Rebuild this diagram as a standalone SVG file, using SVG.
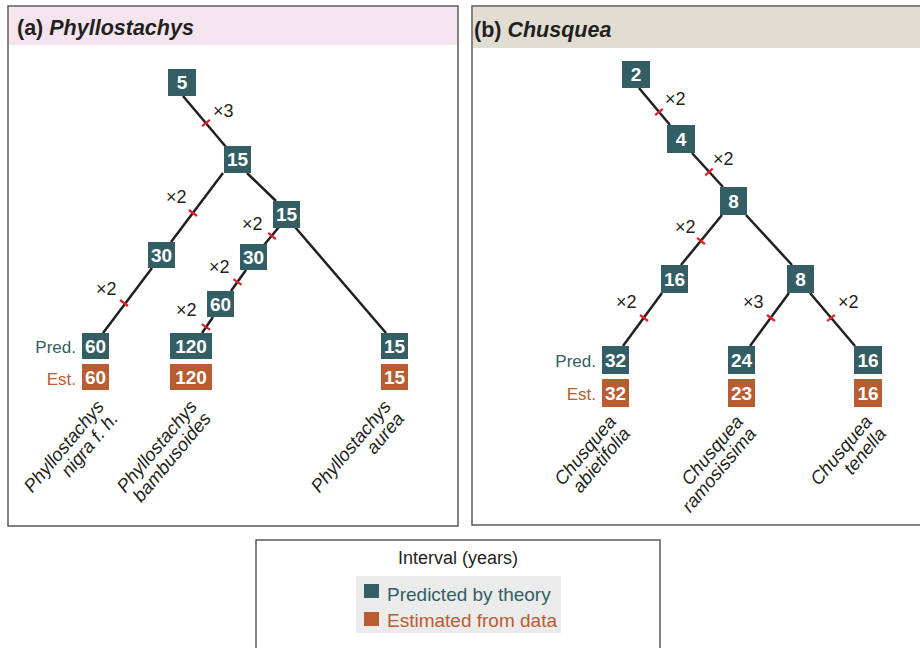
<svg xmlns="http://www.w3.org/2000/svg" width="920" height="648" viewBox="0 0 920 648">
<style>
text{font-family:"Liberation Sans",Arial,sans-serif}
.panel{fill:#fff;stroke:#5a5a5a;stroke-width:1.5}
.p{fill:#335e63}
.e{fill:#b85c32}
.num{fill:#fff;font-weight:bold;font-size:19px;text-anchor:middle}
.edge{stroke:#231f20;stroke-width:2.5;fill:none}
.tick{stroke:#ec1c24;stroke-width:2.2}
.mul{font-size:18px;fill:#231f20}
.sp{font-size:18.5px;font-style:italic;fill:#231f20;text-anchor:end}
.hdr{font-size:21.5px;font-weight:bold;fill:#231f20}
.lab{font-size:17px;text-anchor:end}
</style>
<g id="panel-a">
<rect class="panel" x="8" y="6" width="450" height="520"/>
<rect x="9" y="7" width="448" height="38" fill="#f4e4ee"/>
<text class="hdr" x="17" y="35">(a) <tspan font-style="italic">Phyllostachys</tspan></text>
</g>
<g id="panel-b">
<rect class="panel" x="472" y="6" width="460" height="519"/>
<rect x="473" y="7" width="460" height="41" fill="#e2ddd3"/>
<text class="hdr" x="474" y="37" font-size="24px">(b) <tspan font-style="italic">Chusquea</tspan></text>
</g>
<g id="connectors">
<line class="edge" x1="183" y1="96" x2="226" y2="147"/>
<line class="edge" x1="223" y1="173" x2="171" y2="242"/>
<line class="edge" x1="152" y1="268" x2="103" y2="333"/>
<line class="edge" x1="247" y1="173" x2="276" y2="201"/>
<line class="edge" x1="279" y1="227" x2="264" y2="245"/>
<line class="edge" x1="246" y1="270" x2="231" y2="291"/>
<line class="edge" x1="213" y1="317" x2="202" y2="333"/>
<line class="edge" x1="295" y1="227" x2="386" y2="333"/>
<line class="tick" x1="202.2" y1="126.2" x2="209.8" y2="119.8"/>
<line class="tick" x1="189" y1="210" x2="197" y2="216"/>
<line class="tick" x1="120" y1="300" x2="128" y2="306"/>
<line class="tick" x1="268.2" y1="232.8" x2="275.8" y2="239.2"/>
<line class="tick" x1="233.4" y1="279.1" x2="241.6" y2="284.9"/>
<line class="tick" x1="201.9" y1="324.2" x2="210.1" y2="329.8"/>
<line class="edge" x1="639" y1="88" x2="670" y2="125"/>
<line class="edge" x1="692" y1="153" x2="723" y2="187"/>
<line class="edge" x1="722" y1="215" x2="681" y2="265"/>
<line class="edge" x1="746" y1="215" x2="792" y2="265"/>
<line class="edge" x1="662" y1="293" x2="623" y2="346"/>
<line class="edge" x1="789" y1="293" x2="750" y2="346"/>
<line class="edge" x1="810" y1="293" x2="855" y2="346"/>
<line class="tick" x1="655.2" y1="115.2" x2="662.8" y2="108.8"/>
<line class="tick" x1="705.3" y1="175.4" x2="712.7" y2="168.6"/>
<line class="tick" x1="697.1" y1="237.8" x2="704.9" y2="244.2"/>
<line class="tick" x1="640" y1="315" x2="648" y2="321"/>
<line class="tick" x1="767" y1="315" x2="775" y2="321"/>
<line class="tick" x1="827.2" y1="321.2" x2="834.8" y2="314.8"/>
<text class="mul" x="213" y="117">×3</text>
<text class="mul" x="166" y="203">×2</text>
<text class="mul" x="96" y="295">×2</text>
<text class="mul" x="242" y="230">×2</text>
<text class="mul" x="209" y="273">×2</text>
<text class="mul" x="176" y="316">×2</text>
<text class="mul" x="665" y="105">×2</text>
<text class="mul" x="713" y="165">×2</text>
<text class="mul" x="675" y="233">×2</text>
<text class="mul" x="616" y="308">×2</text>
<text class="mul" x="743" y="308">×3</text>
<text class="mul" x="838" y="308">×2</text>
</g>
<g id="a-n5"><rect class="p" x="168" y="69" width="28" height="27"/><text class="num" x="182" y="89">5</text></g>
<g id="a-n15"><rect class="p" x="224" y="146" width="27" height="27"/><text class="num" x="237.5" y="166">15</text></g>
<g id="a-n15b"><rect class="p" x="273" y="201" width="27" height="27"/><text class="num" x="286.5" y="221">15</text></g>
<g id="a-n30"><rect class="p" x="148" y="242" width="27" height="26"/><text class="num" x="161.5" y="262">30</text></g>
<g id="a-n30b"><rect class="p" x="240" y="244" width="27" height="26"/><text class="num" x="253.5" y="264">30</text></g>
<g id="a-n60m"><rect class="p" x="207" y="291" width="27" height="26"/><text class="num" x="220.5" y="311">60</text></g>
<g id="a-nigra">
<text class="lab" x="76" y="353" fill="#335e63">Pred.</text>
<text class="lab" x="76" y="385" fill="#b85c32">Est.</text>
<rect class="p" x="82" y="333" width="27" height="26"/><text class="num" x="95.5" y="353">60</text>
<rect class="e" x="82" y="364" width="27" height="26"/><text class="num" x="95.5" y="384">60</text>
<text class="sp" transform="translate(105,407) rotate(-50)">Phyllostachys</text>
<text class="sp" transform="translate(119,419) rotate(-50)">nigra f. h.</text>
</g>
<g id="a-bambusoides">
<rect class="p" x="170" y="333" width="42" height="26"/><text class="num" x="191" y="353">120</text>
<rect class="e" x="170" y="364" width="42" height="26"/><text class="num" x="191" y="384">120</text>
<text class="sp" transform="translate(198,407) rotate(-50)">Phyllostachys</text>
<text class="sp" transform="translate(212,419) rotate(-50)">bambusoides</text>
</g>
<g id="a-aurea">
<rect class="p" x="381" y="333" width="27" height="26"/><text class="num" x="394.5" y="353">15</text>
<rect class="e" x="381" y="364" width="27" height="26"/><text class="num" x="394.5" y="384">15</text>
<text class="sp" transform="translate(392,407) rotate(-50)">Phyllostachys</text>
<text class="sp" transform="translate(405,419) rotate(-50)">aurea</text>
</g>
<g id="b-n2"><rect class="p" x="622" y="61" width="28" height="27"/><text class="num" x="636" y="81">2</text></g>
<g id="b-n4"><rect class="p" x="667" y="125" width="28" height="28"/><text class="num" x="681" y="146">4</text></g>
<g id="b-n8"><rect class="p" x="720" y="187" width="27" height="28"/><text class="num" x="733.5" y="208">8</text></g>
<g id="b-n16"><rect class="p" x="661" y="265" width="27" height="28"/><text class="num" x="674.5" y="286">16</text></g>
<g id="b-n8r"><rect class="p" x="787" y="265" width="27" height="28"/><text class="num" x="800.5" y="286">8</text></g>
<g id="b-abietifolia">
<text class="lab" x="596" y="367" fill="#335e63">Pred.</text>
<text class="lab" x="596" y="400" fill="#b85c32">Est.</text>
<rect class="p" x="602" y="346" width="27" height="28"/><text class="num" x="615.5" y="367">32</text>
<rect class="e" x="602" y="379" width="27" height="28"/><text class="num" x="615.5" y="400">32</text>
<text class="sp" transform="translate(617,422) rotate(-50)">Chusquea</text>
<text class="sp" transform="translate(631,434) rotate(-50)">abietifolia</text>
</g>
<g id="b-ramosissima">
<rect class="p" x="728" y="346" width="27" height="28"/><text class="num" x="741.5" y="367">24</text>
<rect class="e" x="728" y="379" width="27" height="28"/><text class="num" x="741.5" y="400">23</text>
<text class="sp" transform="translate(744,422) rotate(-50)">Chusquea</text>
<text class="sp" transform="translate(757,434) rotate(-50)">ramosissima</text>
</g>
<g id="b-tenella">
<rect class="p" x="854" y="346" width="28" height="28"/><text class="num" x="868" y="367">16</text>
<rect class="e" x="854" y="379" width="28" height="28"/><text class="num" x="868" y="400">16</text>
<text class="sp" transform="translate(873,422) rotate(-50)">Chusquea</text>
<text class="sp" transform="translate(887,434) rotate(-50)">tenella</text>
</g>
<g id="legend">
<rect x="256" y="540" width="404" height="120" fill="#fff" stroke="#5a5a5a" stroke-width="1.5"/>
<text x="458" y="564" font-size="18" text-anchor="middle" fill="#231f20">Interval (years)</text>
<rect x="356" y="576" width="205" height="57" fill="#ebebeb"/>
<rect class="p" x="364" y="584" width="15" height="14"/>
<text x="387" y="601" font-size="19" fill="#335e63">Predicted by theory</text>
<rect class="e" x="364" y="612" width="15" height="14"/>
<text x="387" y="627" font-size="19" fill="#b85c32">Estimated from data</text>
</g>
</svg>
